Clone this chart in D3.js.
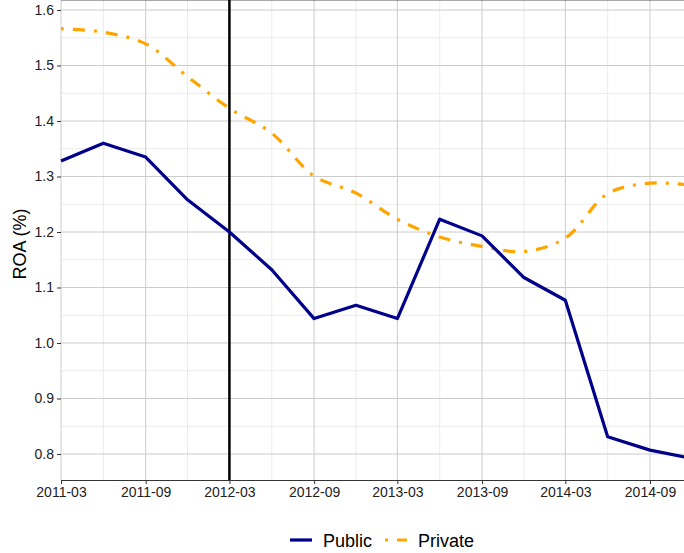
<!DOCTYPE html>
<html>
<head>
<meta charset="utf-8">
<script src="https://d3js.org/d3.v7.min.js"></script>
<style>
  body { margin: 0; background: #fff; }
  text { font-family: "Liberation Sans", Arial, sans-serif; }
</style>
</head>
<body>
<svg id="chart" width="684" height="553"></svg>
<script>
// quarterly observations
var quarters = ["2011-03", "2011-06", "2011-09", "2011-12", "2012-03", "2012-06", "2012-09", "2012-12",
                "2013-03", "2013-06", "2013-09", "2013-12", "2014-03", "2014-06", "2014-09", "2014-12"];
var publicRoa = [1.328, 1.360, 1.335, 1.258, 1.200, 1.132, 1.044, 1.068,
                 1.044, 1.223, 1.193, 1.118, 1.077, 0.831, 0.807, 0.792];
var privateRoa = [1.566, 1.560, 1.539, 1.480, 1.423, 1.378, 1.301, 1.270,
                  1.223, 1.191, 1.174, 1.165, 1.189, 1.269, 1.288, 1.284];
var xTicks = ["2011-03", "2011-09", "2012-03", "2012-09", "2013-03", "2013-09", "2014-03", "2014-09"];
var xMinor = ["2011-06", "2011-12", "2012-06", "2012-12", "2013-06", "2013-12", "2014-06", "2014-12"];
var yTicks = [0.8, 0.9, 1.0, 1.1, 1.2, 1.3, 1.4, 1.5, 1.6];
var yMinor = [0.85, 0.95, 1.05, 1.15, 1.25, 1.35, 1.45, 1.55];
var eventDate = "2012-03";
var seriesNames = ["Public", "Private"];

var parseMonth = d3.timeParse("%Y-%m");
var fmtMonth = d3.timeFormat("%Y-%m");

var svg = d3.select("#chart"),
    left = 61, top = 8, bottom = 480, right = 724;

var x = d3.scaleTime()
    .domain([parseMonth("2011-03"), parseMonth("2014-09")])
    .range([61, 650]);
var y = d3.scaleLinear()
    .domain([0.8, 1.6])
    .range([454, 10]);

// grid
var grid = svg.append("g");
grid.selectAll(".ymin").data(yMinor).enter().append("line")
    .attr("x1", left).attr("x2", right)
    .attr("y1", function (d) { return y(d); }).attr("y2", function (d) { return y(d); })
    .attr("stroke", "#ebebeb").attr("stroke-width", 1);
grid.selectAll(".xmin").data(xMinor).enter().append("line")
    .attr("x1", function (d) { return x(parseMonth(d)); }).attr("x2", function (d) { return x(parseMonth(d)); })
    .attr("y1", top).attr("y2", bottom)
    .attr("stroke", "#ebebeb").attr("stroke-width", 1);
grid.selectAll(".ymaj").data(yTicks).enter().append("line")
    .attr("x1", left).attr("x2", right)
    .attr("y1", function (d) { return y(d); }).attr("y2", function (d) { return y(d); })
    .attr("stroke", "#cccccc").attr("stroke-width", 1);
grid.selectAll(".xmaj").data(xTicks).enter().append("line")
    .attr("x1", function (d) { return x(parseMonth(d)); }).attr("x2", function (d) { return x(parseMonth(d)); })
    .attr("y1", top).attr("y2", bottom)
    .attr("stroke", "#cccccc").attr("stroke-width", 1);

// panel top edge
svg.append("line")
    .attr("x1", left).attr("x2", right).attr("y1", top + 0.5).attr("y2", top + 0.5)
    .attr("stroke", "#555").attr("stroke-width", 1);

// event line
svg.append("line")
    .attr("x1", x(parseMonth(eventDate))).attr("x2", x(parseMonth(eventDate)))
    .attr("y1", top).attr("y2", bottom)
    .attr("stroke", "#000").attr("stroke-width", 2.5);

var pubData = quarters.map(function (q, i) { return {date: parseMonth(q), value: publicRoa[i]}; });
var privData = quarters.map(function (q, i) { return {date: parseMonth(q), value: privateRoa[i]}; });

svg.append("path")
    .datum(privData)
    .attr("fill", "none")
    .attr("stroke", "#FFA500")
    .attr("stroke-width", 3.2)
    .attr("stroke-dasharray", "3,9,12,9")
    .attr("d", d3.line()
        .curve(d3.curveCatmullRom.alpha(0.5))
        .x(function (d) { return x(d.date); })
        .y(function (d) { return y(d.value); }));

svg.append("path")
    .datum(pubData)
    .attr("fill", "none")
    .attr("stroke", "#00008B")
    .attr("stroke-width", 3.2)
    .attr("stroke-linejoin", "round")
    .attr("d", d3.line()
        .x(function (d) { return x(d.date); })
        .y(function (d) { return y(d.value); }));

// axes
var xAxis = svg.append("g")
    .attr("transform", "translate(0," + bottom + ")")
    .call(d3.axisBottom(x)
        .tickValues(xTicks.map(parseMonth))
        .tickFormat(fmtMonth)
        .tickSize(4)
        .tickPadding(3));
xAxis.select(".domain").attr("d", "M" + left + ",0.5H" + right).attr("stroke", "#333");

var yAxis = svg.append("g")
    .attr("transform", "translate(" + left + ",0)")
    .call(d3.axisLeft(y)
        .tickValues(yTicks)
        .tickFormat(d3.format(".1f"))
        .tickSize(4)
        .tickPadding(3));
yAxis.select(".domain").attr("d", "M-0.5," + top + "V" + bottom).attr("stroke", "#333");

svg.selectAll(".tick line").attr("stroke", "#333");
svg.selectAll(".tick text")
    .attr("fill", "#222")
    .style("font-size", "14px")
    .style("font-family", "'Liberation Sans', Arial, sans-serif");

svg.append("text")
    .attr("transform", "translate(26,244) rotate(-90)")
    .attr("text-anchor", "middle")
    .style("font-size", "18px")
    .attr("fill", "#000")
    .text("ROA (%)");

// legend
var legend = svg.append("g");
legend.append("line")
    .attr("x1", 290).attr("x2", 312).attr("y1", 540).attr("y2", 540)
    .attr("stroke", "#00008B").attr("stroke-width", 3.2);
legend.append("text")
    .attr("x", 323).attr("y", 546.5)
    .style("font-size", "18px")
    .text(seriesNames[0]);
legend.append("line")
    .attr("x1", 385).attr("x2", 407).attr("y1", 540).attr("y2", 540)
    .attr("stroke", "#FFA500").attr("stroke-width", 3.2)
    .attr("stroke-dasharray", "3,9,12,9");
legend.append("text")
    .attr("x", 418).attr("y", 546.5)
    .style("font-size", "18px")
    .text(seriesNames[1]);
</script>
</body>
</html>
